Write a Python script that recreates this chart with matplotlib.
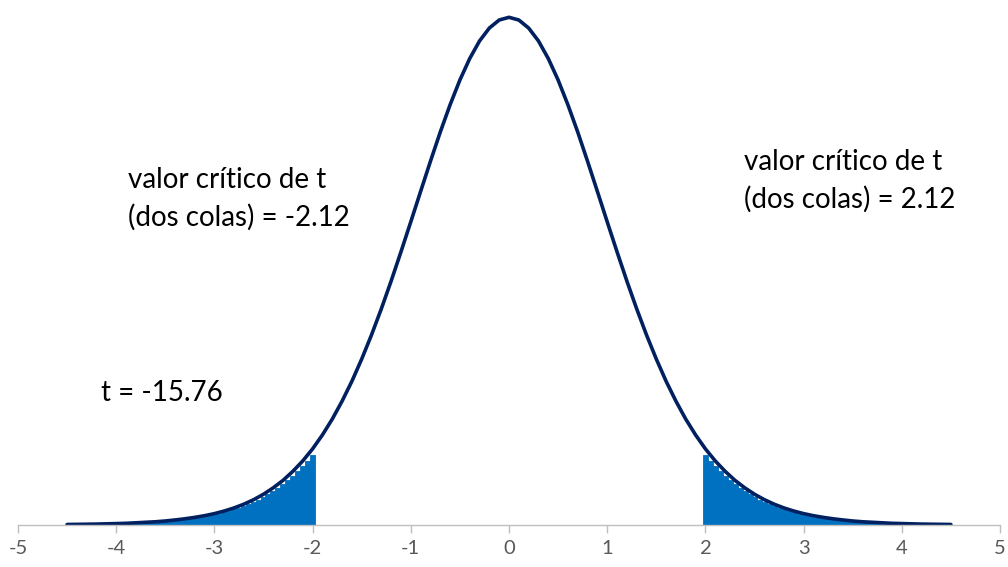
import matplotlib.pyplot as plt

# t distribution curve (df = 16)
curve_x = [round(-4.5 + 0.1 * i, 1) for i in range(91)]
curve_y = [0.0004, 0.0005, 0.0006, 0.0007, 0.0009, 0.0011, 0.0013, 0.0017, 0.0021, 0.0025,
           0.0031, 0.0039, 0.0048, 0.0059, 0.0072, 0.0088, 0.0108, 0.0132, 0.0161, 0.0196,
           0.0238, 0.0288, 0.0346, 0.0416, 0.0496, 0.0589, 0.0697, 0.0819, 0.0958, 0.1112,
           0.1284, 0.1471, 0.1673, 0.1888, 0.2114, 0.2346, 0.2581, 0.2814, 0.3040, 0.3251,
           0.3443, 0.3609, 0.3745, 0.3845, 0.3907, 0.3928, 0.3907, 0.3845, 0.3745, 0.3609,
           0.3443, 0.3251, 0.3040, 0.2814, 0.2581, 0.2346, 0.2114, 0.1888, 0.1673, 0.1471,
           0.1284, 0.1112, 0.0958, 0.0819, 0.0697, 0.0589, 0.0496, 0.0416, 0.0346, 0.0288,
           0.0238, 0.0196, 0.0161, 0.0132, 0.0108, 0.0088, 0.0072, 0.0059, 0.0048, 0.0039,
           0.0031, 0.0025, 0.0021, 0.0017, 0.0013, 0.0011, 0.0009, 0.0007, 0.0006, 0.0005,
           0.0004]

# shaded rejection region columns, from the critical value outwards
tail_start = 1.98
tail_width = 0.05
tail_heights = [0.0541, 0.0496, 0.0454, 0.0416, 0.0380, 0.0346, 0.0316, 0.0288, 0.0262, 0.0238,
                0.0217, 0.0196, 0.0178, 0.0161, 0.0146, 0.0132, 0.0120, 0.0108, 0.0098, 0.0088,
                0.0080, 0.0072, 0.0065, 0.0059, 0.0053, 0.0048, 0.0043, 0.0039, 0.0035, 0.0031,
                0.0028, 0.0025, 0.0023, 0.0021, 0.0018, 0.0017, 0.0015, 0.0013, 0.0012, 0.0011,
                0.0010, 0.0009, 0.0008, 0.0007, 0.0006, 0.0006, 0.0005, 0.0005, 0.0004, 0.0004]
xticks = [-5, -4, -3, -2, -1, 0, 1, 2, 3, 4, 5]

plt.rcParams['font.family'] = ['Lato', 'DejaVu Sans']

fig = plt.figure(figsize=(10.08, 5.67), dpi=100)
ax = fig.add_axes([18 / 1008, 42 / 567, 982 / 1008, 517 / 567])

right_x = [tail_start + tail_width * i for i in range(len(tail_heights))]
left_x = [-tail_start - tail_width * (i + 1) for i in range(len(tail_heights))]
ax.bar(right_x, tail_heights, width=tail_width, align='edge', color='#0070C0',
       edgecolor='#0070C0', linewidth=0.6)
ax.bar(left_x, tail_heights, width=tail_width, align='edge', color='#0070C0',
       edgecolor='#0070C0', linewidth=0.6)

ax.plot(curve_x, curve_y, color='#002060', linewidth=2.6, solid_capstyle='round',
        solid_joinstyle='round')

ax.set_xlim(-5, 5)
ax.set_ylim(0, 0.4)
ax.set_xticks(xticks)
ax.set_xticklabels([str(t) for t in xticks], fontsize=14.5, color='#595959')
ax.set_yticks([])
ax.tick_params(axis='x', direction='out', length=6, width=1, color='#BFBFBF', pad=5)
for side in ['top', 'right', 'left']:
    ax.spines[side].set_visible(False)
ax.spines['bottom'].set_color('#BFBFBF')
ax.spines['bottom'].set_linewidth(1)

fig.text(128 / 1008, 1 - 199 / 567, "valor crítico de t\n(dos colas) = -2.12",
         fontsize=20, va='center', ha='left', linespacing=1.5)
fig.text(744 / 1008, 1 - 181 / 567, "valor crítico de t\n(dos colas) = 2.12",
         fontsize=20, va='center', ha='left', linespacing=1.5)
fig.text(101 / 1008, 1 - 393 / 567, "t = -15.76", fontsize=20, va='center', ha='left')

fig.savefig("out.png", dpi=100)
